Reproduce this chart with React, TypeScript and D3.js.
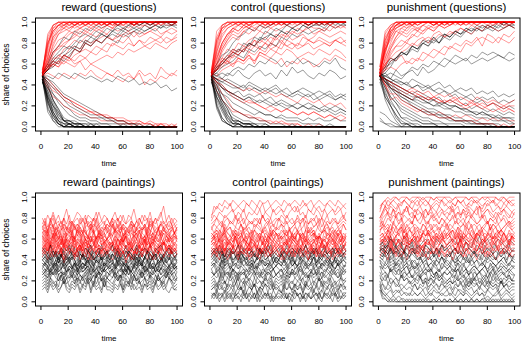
import React from 'react';
import * as d3 from 'd3';

// one string per subject: share of choices at evenly spaced time points from 1 to 100,
// each char is a base-36 digit, value = digit / 35 (spaces are only for reading)
const rewardQuestionsRed = [
  'hvyzy zzyzz zyzzz zyzzz zzyzz z', 'itxzz yzzzz yzzzz zzyzz zzzzy z',
  'hqwyx zyzzy zzzzy zzzzz yzzzz z', 'inuwy xyzyz zzyzz zzzzz yzzzz z',
  'hmrvw xyxyz yzzyz zzzyz zzzzz z', 'ilprt vwxwy xyzyy zzyzz zyzzz z',
  'hkpqs tvuwv xwyxy yxzyy zzyzz y', 'ijnnq rtsuv uwvxw xwyxy xyzyy z',
  'ikmon qrqts tuvtu vwuwv wxvwx w', 'hjlkn mopqp rqsrt surts utsut u',
  'ilkml nmonp oqpsr qsrtr stust v', 'hihgi hgihj hgihg fhgie gfhgi h',
  'ijlkm lkmjl kjihj higjh igkih j', 'hfdca 98765 54433 32221 21110 1',
  'hecb9 87655 44332 22111 10101 0', 'gda97 65443 32221 11010 01000 0',
  'iuyzz zzzyz zzzzz yzzzz zzzzz z', 'hrxyz zzyzz zzzzz zzyzz zzzzz z',
  'iswyy zyzzz zyzzz zzzzz zyzzz z', 'hotwx yxyzy zzyzz zzzzz zzzzz z',
  'jpuxy zyzzz zzyzz zzzzz zzzzy z', 'hkorr tuwvx wxyxz yzyzz zzzzz z',
  'iryzz zzzzz zyzzz zzzzz zzzzz z', 'hnvyz yzzzz zzzyz zzzzz zzzzz z',
  'ilsvx wyzyz zzzzy zzzzz zzzzz z', 'jswyz zzzzz zzzzz zzzzz zzzzz z',
  'hmqtu wvxyx yzyzz zzyzz zzzzz z', 'ijmlo nqpsr tsutv uvwuv wvuwv w',
  'hklmo nlmnl mnonp oqpqr qsrqs t', 'igeca 98765 44332 21121 10100 0',
];
const rewardQuestionsBlack = [
  'h9310 10000 00000 00000 00000 0', 'g7210 00000 00000 00000 00000 0',
  'ga521 10100 00000 00000 00000 0', 'hc842 21101 00000 00000 00000 0',
  'fb732 11100 00000 00000 00000 0', 'he963 22111 00000 00000 00000 0',
  'ia752 21110 10000 00000 00000 0', 'hfb86 43221 11100 10000 00000 0',
  'gdb97 64332 21111 00000 00000 0', 'h8410 00000 00000 00000 00000 0',
  'g5200 00000 00000 00000 00000 0', 'hb521 00000 00000 00000 00000 0',
  'iknpr qsuvu wvxwy xyzyz yzzzz z', 'hjlnm oqpsr tsuvu wvwxw xyxyy x',
  'ilpru twvxw yxyzy zzyzz zzzzz z', 'hhgih gihgh gfgfh gfgef efdec d',
  'hfdb9 76543 33221 11100 00000 0', 'g9420 10000 00000 00000 00000 0',
  'fa631 10000 00000 00000 00000 0', 'hgeca 97654 43322 21110 10000 0',
  'ikmlo nqpsr tsuts vuwvw xwyxy y', 'hjmop rqtsu tvuwv xwxwy xyxzy z',
  'g6310 00000 00000 00000 00000 0', 'h9520 10000 00000 00000 00000 0',
  'fc742 11000 00000 00000 00000 0', 'ie962 10000 00000 00000 00000 0',
  'hd952 21100 00000 00000 00000 0', 'g8410 00000 00000 00000 00000 0',
  'hjkmo prqts uvuwx wyxyz yzzzz z', 'hgfdb a9876 54332 21100 00000 0',
];

const controlQuestionsRed = [
  'hsxyz yzzzz yzzzz zzzyz zzzzz z', 'iuyzy zzzzz zyzzz zzzzz zzyzz z',
  'hpvxy zyzzz zzyzz zzzzz yzzzz z', 'imsvx wyxyz zyzzz zzzyz zzzzz z',
  'hkpsu twvxw yxyzy zzyzz zyzzz z', 'ijnqp srtuw vxwxy xyzyz zzyzz z',
  'hkmon qpsrt sutvu wvwxv wxwyx y', 'ilnmp oqprq sqrtr sqrsq rsrts r',
  'hjkml nmolp onpoq pnopo qpoqp n', 'ikmlo nmpoq psrqt sruts tsrts t',
  'hggfe dcdcb cbaba 98a98 97878 6', 'hfdcb a9887 67656 54545 43434 3',
  'gc975 54433 22121 11010 10000 0', 'heb96 54332 21211 01000 00000 0',
  'iwyzz zzyzz zzzzz zzzyz zzzzz z', 'hryzz zzzzz yzzzz zzzzz yzzzz z',
  'jtxyz yzzzz zzzzy zzzzz zzzzz z', 'iosvw yxyzz yzzzz yzzzz zzyzz z',
  'hlqtv uwxwy xyzyz zyzzz zyzzz z', 'inrux wyxzy zzzyz zzzzz zzzzz z',
  'hjmnq prqts usvuw vxwyx xwyxy x', 'ijlmk nmomp oqpsr qsrts utstu s',
  'itxzz zyzzz zzzzz zzzzz zzzzz z', 'hqwyz zzzzz zzzyz zzzzz zzzzz z',
  'ipuxy zzyzz zzzzz zzzzz zzzzz z', 'hnsvx yzyzz zzyzz zzzzz zzzzz z',
  'ilqtw vxyxy zyzzz zzzzy zzzzz z', 'hjlnp oqrtq srusv tuvtu wvuvw v',
  'ihjkl mlnmo nmlnk mlnmk lnmon m', 'hfeca 98987 65656 54545 43432 3',
];
const controlQuestionsBlack = [
  'h8310 00000 00000 00000 00000 0', 'g6210 00000 00000 00000 00000 0',
  'ha631 10100 00000 00000 00000 0', 'hc853 21110 10000 00000 00000 0',
  'fa621 10000 00000 00000 00000 0', 'ge962 21110 00000 00000 00000 0',
  'hfba8 76545 44343 33232 32232 2', 'hgecb a9a89 87876 76766 56545 4',
  'ifdcb cabab 9a898 78787 67676 5', 'hgfed dcedc bcdba bcbab 9ab9a 9',
  'hgfgf edfed cdecd bcdcb cbcab a', 'g9520 10000 00000 00000 00000 0',
  'h7310 10000 00000 00000 00000 0', 'hiklm onqpr qsrut vuwvw xwyxy y',
  'ijmoq psrut wvxwy xyzyz yzzzz z', 'hklnp oqsru tvuwv xwyxy yxzyz y',
  'hhihj kjlkm lnmkm lnlml kmlnk j', 'higih jhgij higjh kijhg ihjig h',
  'hfdba 98765 44332 22111 10100 0', 'gc741 21100 00000 00000 00000 0',
  'hdb86 54332 21110 10000 00000 0', 'ilops uvxwy xyzzy zzzyz zzzzz z',
  'h7210 00000 00000 00000 00000 0', 'ga731 10000 00000 00000 00000 0',
  'hc962 21100 00000 00000 00000 0', 'fb842 11100 00000 00000 00000 0',
  'hgdcb a9a98 98787 76767 65656 5', 'ihgfe decdc dcbcb abab9 aba9a b',
  'hjlno qpsrt uvuwv xwyxy zyzzy z', 'he974 32211 10000 00000 00000 0',
];

const punishmentQuestionsRed = [
  'itxyz zyzzz zzzyz zzzzz zzzzz z', 'jvyzz yzzzz zzzzz zyzzz zzzzz z',
  'hrwyz yzzzz yzzzz zzzzz zzyzz z', 'ipuxy zyzzz zzzzz yzzzz zzzzz z',
  'hnswx yzyzz zyzzz zzzzz yzzzz z', 'jowxy zzyzz zzzzz zzzyz zzzzz z',
  'hlquw vxwyx yzyzz zyzzz zzzyz z', 'ikorr tuwvx wyxyz yzyzz zzzzz z',
  'hjmnp qsrtu tvuwv xwyxy xyzyy z', 'ilnmo lnmpo qprqs rtsur vusvu w',
  'hjkjl mlnmo nporq psrtu tsuts u', 'gedcb a9ba9 a989a 87978 78767 7',
  'hfedc bcba9 a9898 76787 65656 5', 'he9a8 76565 45434 34323 23232 2',
  'hgfed cdcbc abab9 a98a9 89878 9', 'itxzy zzzzz yzzzz zzzzz zzzzz z',
  'kwyzz zzzzz zzyzz zzzzz zzzzz z', 'hquxy xzyzz zzyzz zzzzz zzzzz z',
  'imqtv uwxwy xyzzy zzzzz zyzzz z', 'jpvyz zzzzz zzzzz zzzzz zzzzy z',
  'iqtwv xywyz yzzyz zzzzz zzzzz z', 'hkprt svuwx wyxyz yzzyz zzzzz z',
  'hsxzz zzzzz zzzzz zzzzz zzzzz z', 'jqvyz zyzzz zzzzz zzzzz zzzzz z',
  'irwyy zzzzz yzzzz zzzzz zzzzz z', 'kuxzz zzzzz zzzzz zzzzz zzzzz z',
  'hnrux wyxyz zyzzz zzzzz zzzzz z', 'ilnpq srtus vwuvw xwvxw yxwxy x',
  'hgfed cba9a 98989 87876 78676 5', 'iebb9 87654 43332 22211 11010 1',
];
const punishmentQuestionsBlack = [
  'h9520 10000 00000 00000 00000 0', 'gc742 11000 00000 00000 00000 0',
  'hea86 54322 11100 00000 00000 0', 'ifc97 65433 22111 10000 00000 0',
  'hgdca 97654 43322 21111 00000 0', 'igedb a9876 65443 32221 11100 0',
  'hfecb a9a98 78767 65545 43433 2', 'jgfed cbcba 9a898 78676 56545 4',
  'hhgfe fdecd cbcab 9a989 78767 6', 'ihgff edede cdcbc bab9a 9a898 9',
  'hgfgf egfed efdec dcdbc bcaba b', '54210 00000 00000 00000 00000 0',
  '31100 00000 00000 00000 00000 0', 'fa741 10000 00000 00000 00000 0',
  'hd963 21100 00000 00000 00000 0', 'hjmnp orqts usvuw vxwyx yxzyz y',
  'hklno prqsr tsutv uwvxw xwyxy x', 'iknmp oqpsr usvuw vxwxw yxwxy x',
  'higjh ikjlk mlnmo nmonp oponp o', 'hfdb9 87655 44332 22211 11000 0',
  'gb863 32211 10000 00000 00000 0', 'hgfdc baa98 97877 66545 44333 3',
  'ia731 10000 00000 00000 00000 0', 'hda85 43211 10000 00000 00000 0',
  'ggdba 98765 54432 22111 10000 0', 'hfdcb a9988 77665 54433 32221 1',
  'igfed cbaa9 98877 66554 43322 1', '21000 00000 00000 00000 00000 0',
  'hiknp orqst suvuw vwxwy xyxzy y', 'hhihg ijhki jlkml mnlmn mnonm n',
];

const rewardPaintingsRed = [
  'sqtru rtqsv rqsut rqtsr uqrts qsurt rqtsv rsqtr uqsrt wrtqs r',
  'qsprt qrosq tprsq rtpqs rurqs qsrpq tqrsp rqtrs prqsu qrpsq r',
  'prnqs oqpso qrpnq spqro spqrn qprso qnprq osqpr nqspq oprqn p',
  'oqnrp opmqo rnpqo nspoq pnoqp oqnpr mopqn opnqo rpmoq pnopq o',
  'pnoqp mprop nqpos pnoqp rnpoq psopn qporn pqopm qpnoq rpoqn p',
  'npmoq nlopm onqmp nolqn pmonp nqmon pmnoq lnpom nqopm onmpn o',
  'molnp mnkom nplmo knmpn lomnl mponm knmol pnmko mnlpm onkmn m',
  'nmolm pnkmo nmlpn onmkn oplmn omknp mnolm nkopm lnomn pmlon n',
  'lnkmo lmjnl mokln jmlon kmlnk lmonl kmjnm lokmn ljmol nkmlm l',
  'mlnkm olmjn mlkom nlmko lnmjl nmolk mnlkn omlmj nlkmo lmnkl m',
  'kmjln kljmk lnjkm ilkmj lnkml kjmlk nljkm lilkm jnlkm jklmn l',
  'lkmjl nkljm kmilk nljmk lmjkl nkmjl kmlij lknml jkmlk jmlkn l',
  'jlikm jkhlj kmijl hkjlk imjkl jkilj mkjhk ljkim jlkjh kljim k',
  'kjlik mjkil jkmhk jlkij mkjli kjlik jmkil jkhlj kmjil kjlhk j',
  'ikhjl ijgki jlhij gjikl hjikh jkijh lijkg ijhkj ilhji kjgij i',
  'jikhj likjh kjlhi kjgij lihkj ijkhl jikjg ikjli hkjij lhikj j',
  'hjkij hkijl gjikh jlijh kjigk jhilj kihjk gijlh jkihj kijgh j',
  'hjgik hifjh ikghj fihjk gihjg ijhik gjihf jihkg ijhig khjih i',
  'ihjgi kihgj ihfij hgkih jghij khigj ihfhj kigih jgihk hjigi h',
  'gihjf hgiej hgfih jgehi gfhig hjgfi hegih gjfhi gehgi fhjgh g',
  'hgifh jgheg ihgfj higeh gihfg ihgjf hgieh gfihg jhegi hgfhi g',
  'fhegi fghdf giehe gfhfe gifgh fegif hdgfe ghfie gfhge fighf g',
  'nompl nomkn pmlon mpkno lnmpo mnoqm lonpm nolmp onmkn pomln o',
  'mkljn klmil knlkj mlikm jlnkl mkjln kmilk nljmk lmkjl nmklj l',
  'pqosp rnoqp oroqp nqros pqnoq prosq opnqp rpoqn sqpor pqnop q',
  'ijhki gjihk jigij hkihj ijgih jkihg jihki gjhik jihgj kihji h',
];
const rewardPaintingsBlack = [
  'higjf hgihe gjhfi gehif hgjhe ghifh gjhge ihgfh jgihe fhgih g',
  'ghfeh gfigf ehgfh egifh gfegh fgihe gfhgf iegfh gefhg fgehf g',
  'fgedf hegfd fgecg fedgf ehdfg efgdf ehgfe dgfeh dfgec fegdf e',
  'efdce gdfec dfebe dcfed gecdf decgf dcefd becfd geced fdcef d',
  'edfec edgcd efcde bdecf defcd edfce dcgde cfedb dfcde gdefc e',
  'dcebd cfbdc ebdac dcebd cadce cdbec dacdb fcdbe cdacb decdb c',
  'cdbac ebdca cbdac bdacb ecabd bcadb cebac dbacd bcabe dbcab c',
  'bdcab dcbea cbdba cbdca bcadc bdcba dcbad cebca dbcab dcbac b',
  'bac9b cab9a bca9b abc9a ba9bc abcab 9dbac a9bcb a9cab b9acb a',
  'ab9ac 9ba8a b9ab9 8ab9c a9ab8 ab9a8 bac9a 9b8ab 9ca9b a8b9a b',
  '9a8b9 a79a8 9b8a9 79a8b 9a78a 98a79 8b9a9 78a9b 8a978 9a89a 8',
  '8979a 87968 89786 9a879 8a798 78a89 79868 97a87 98796 8a978 7',
  '78687 59786 79687 86979 68758 76879 58697 86785 97687 69876 8',
  '67586 75968 57697 58675 96857 65786 47659 67586 75697 56875 6',
  '56475 64585 46574 65847 56485 54657 46584 57465 64756 45864 5',
  '45364 53574 35463 54736 45374 43546 35746 45364 53645 74354 4',
  'hgfhg egfhg ifghe gfhge fgihf gefhg higfe ghfig egfhe ghigf g',
  'edcfd bdecd fcdeb dcfdc edbdc decfd cbdec fdcde bdcef dcbdc d',
  'cbabc dabc9 bacbd abcab 9cbab cabdc ab9ca bcdab cabc9 bacbd b',
  'efgef hdfge fegfd gefhe fdgef egfhe dfgef egdfh efgde gfehf f',
  'a98a9 b9a89 8a979 89786 98978 9a897 a9b89 79a89 86978 98a97 8',
  'ihgjh ghfih jgihg fihjg hiegh hjgih fhgih jghih gfhij hgihg h',
  'fedge cfdeg dfecd gedfc edfbe dgefd cedfg decfe dfgce edfde e',
  'dcbdc acdbc dcbac dbcec bdcab cdbcd acbdc bdcac dbcdb cacdb c',
  '9ab8a b9a9c a8b9a ab9ba 8a9ba 9b8ab a9ca9 ba8b9 a9ab9 ab9a8 a',
  'gfegh fegdf hgfeg fdhge fgefh egfdg efhge gfdfe hgefg dfgfe g',
];

const controlPaintingsRed = [
  'swvxw yxwyx wxyxw yxwyx xywxy xwyxw xyxwy wxywx yxwxy xwyxw x',
  'tuwvu wvxuv wvuxw vuwvx uvwuv wvuwx vwuvw xvuwv wuvxw vuwvw v',
  'rtsut stuvs utvsu tutvs utsvt uvtsu vuwtu svutv usvtu vtuvs u',
  'pqsrq tsrqs rtqsr qrsqt rsqrs rtsqr sqtrs rqsrt qsrtq rsqst r',
  'oqpqr oprqp sqopq rpqso qrpqo sqpro pqrqs oqrpq sprqo qrpqr q',
  'mnpon qopnp oqnop nqpon pqnop oqpno pqnop rnopq onpqo pnopq o',
  'lmnlm onmln moknm lonmk nmlon monml nkomn lomnk mnolm nomkn m',
  'nmonl pnmon lmpon nomlo pnmon mnomp lnomn kpnom lnpmo nmonl n',
  'mlnkm olmkn lmoln kmnlo mknlm nlmok mlnml kmnol mlknm olnmk m',
  'lmkln mjlkm nklmj lkmnl jmlkn lmkjl mnklm jlkml nkljm lkmnl k',
  'klmkj mlknl jmlkj nlkmj lkmnl kmljk nlkmj lklnm kjmlk ljnkm l',
  'kmjlk nljkm jlnkj mkilm kjnlk mljkm lkjnl mjkli mkljn kmljk l',
  'kjlki jlkjm ikljh kjlik jmlkj likjl kmjik ljhkj mlijk jlkmi k',
  'jkilj hjkij likjh kjilk hjiki jkjli kjhlj ikjkl ijhkj likjk j',
  'jkijl hkjil jkhij lkjhk ijlik jhkji lkjih jkilj hkjil jkhij j',
  'ihjgi khijh gjikh ijhgi jkhij ijhki gjihk jhigj kijhg ikjhi j',
  'ijhik gjhij gihkj hijgi hjkhi jihgj ihkji gihjh gkijh ijgih i',
  'ihgji hkigh jihgj ikhig jhigh ijhgi kihjg hijgh ikhgj ihjgi h',
  'hihjg ihgjh ighij fhigh jhgih hgjih fighj hgihg jfhig hjghi h',
  'hgihj fhigh jhgfi hjgih fhgji ghigh jfhgi hgjhf ighjh gfihg h',
  'ghfig hegih fhgie ghfgi hfghi gehgf ighfg hegif hgfhi egfhg g',
  'fhgeh igfhg ehgif hfgeh gifhg fhegh gfihf gehgi fhgef hgihf g',
  'nmlom nklmo mnlkm omlnm klomn lmnko mlnmk olmnl mkonm lnmok m',
  'kljmk ljkim kjlkm ijklj mkjlk jlmkj lkimj kljkm lijkl mkjli k',
  'pnomq nopmo nqopn moqpn ompno pqnmo npoqm onpmo qnopn mopnq o',
  'qrsqp rsqrt qrspr qsrqt rqspr srqtr qrsqr tqrsq rsprq srqrs r',
];
const controlPaintingsBlack = [
  'higjh fhigh ejhgi hfgih gjhfg higjh fhgih jgfhi ghjgh fihgj h',
  'gfhgi egfhf gehgf igehf ghfge gfhig egfhg fehgi gfhge gihfg g',
  'fgefh dfgef hegfd fgeif efgdf egfhe fdgef hfegd fegfe hdfge f',
  'efdeg cefde gdefc edfge dcefd egdfe cdfeg defcd egfde cfedg e',
  'dedcf debdc edfcd ebdce dfcde dcebd fdcde cbdfe dcedb dfcde d',
  'cdbce bcdac bdcba cdbec acdbc dcbac ebcda bcdbc adcbe cbdac c',
  'bcabd abcba 9cbab dacb9 bcabc babca 9bcab dbac9 cbabc abdba b',
  'a9bac 9a8ba 9ab9a c9a8b a9ab9 ab8a9 ba9ca 89ab9 a8ba9 cab9a a',
  '898a7 98a89 79a87 9a898 7a989 89798 a8978 98a89 78987 a9897 8',
  '7867a 68786 97868 75876 87968 78697 68786 57968 78679 86787 7',
  '56475 74656 84576 46547 65746 56475 46564 75645 86547 56465 5',
  '45364 53463 54735 46354 63645 43546 35463 54536 47354 63456 4',
  '32423 13242 35232 41324 23142 32413 24231 32423 14232 42313 3',
  '21312 02131 20312 13021 31202 12130 21302 13120 31212 03121 2',
  '13202 31203 12130 21302 13021 21312 03213 02123 10321 32012 2',
  'ghfeg fhgif ghfeg hgfig hfghg fhegf hgife ghfgh efhgf ighfg h',
  'dcedb cdfcd bcedc dbced cdbdc dcedf cdbce dcdfc bdced cdecb d',
  'a9a8b 9a9b8 a9a89 ba9a8 9a9b9 a8ab9 a9b8a 9ab9a 8a9ba 9a8a9 a',
  '67586 75968 57697 58675 96857 67586 75768 59676 85768 67586 7',
  'hgfhg efgdf egfde fdefd cedfd edfcd edcfd cedfc dedfc decde d',
  'b9ab8 a9b9a 8a9b9 a8b9a 9ba89 ab9a8 b9ab9 a8a9b 9a89a b9a8b a',
  'fefgd efhef dgfef gdfeh efgdf egfef hdefg feghd fegfe dfgef f',
  'cdcbe cdbcd cecdb dcbde cdcbc edcdb cdcec bdcdc ebdcd cbdec c',
  '45645 36546 45365 46354 65464 53645 46453 65465 34656 45364 5',
  'ghigh fihgh jgihg hfihg ihjgh ighfh ihgig jhgih fhigh ighjg h',
  '23132 42312 32413 23142 32312 43213 24231 32142 31324 23142 3',
];

const punishmentPaintingsRed = [
  'vxyzy zzyzz zyzzz zyzzz yzzzz zzyzz zzzyz zzyzz zzzzy zzyzz z',
  'uxwyx yzyxy zyxyz yzyxz yzyyz yxyzy xyzyz yxyzy zyxzy yzyxy y',
  'suwvx wvxwy xwvxw yxwxv wxwyx wvxwy xwvxw yxwvx wxyxw vxwyx w',
  'rtvuw vuwtv uwvuv wuvtw vuwvu vwuvw tvuwv uvwuv xwuvw uvwvu v',
  'pstut vsutu wtusv utsuv tusut utvsu tusvt uwstu vutsu tvuts u',
  'opqsr qtrsq rsqtr qsrqt rsqsr srtqs rqsts rqrst qsrsq rtsqr s',
  'nqpon rpqso pqrop nqpro qpnqp qoprq pqorp qpnpq roqpq opqrp q',
  'rqsur tsqrt srqtr suqrs trqsr qrstq rsqrt sqrtr qsrqt rsqrq r',
  'qrpqo pnoqn opmno lnmon lnmlm nmlnm olmnm lnmol mnlmn olmnl m',
  'mnlom kmnpl monlm knmol mnkml nomln mkonm lnmok nmlnm onlmn m',
  'mnlom npmol nmkom lnpmn olnmo mnomp lnmom knomn mplno mnlom n',
  'lmkln mjlkm nklmj lkmnl jmlkn lmkln jmlkm nlkjm lmkln mkljm l',
  'lkmnj lmklk njlmk lmjnl kmlnk lmkjl nlmkl jmnlk lmkjm lnlkm l',
  'kljkm ijlkj mkljk hjkli kjlmk jkljm kilkj lmjki kljmk jlkjl k',
  'kljmk ljkim kjlkm ijklj mkjlk jlkmj likjl mkjlk ijmkl jkljm k',
  'jkijl hjikj lijkh jikjl ihjki jkjih ljkij hkjil jkhij ljikj j',
  'jlkmi kjlih kjlki jhkjl kijlk ijkhj likjk ihjlk jikjh lkjik j',
  'ijhik hgjih kihjg ihjki gihji hijhk gihji khjgi ihjkh gijhi i',
  'hihgj gihfh jgihg hjfig hgihf hghig jhfih ghjig hfghi jghih h',
  'ihgji hfihg jhigh fgihg jhfig hihgj hfigh ighjf hgihj gihfh h',
  'fhgeh igfhg ehgif hfgeh gifhg fhegh gfihf gehgi fhgef hgihf g',
  'pqopn qpopq nopqp oqpno pqopr oqpon pqpoq npqop roqpn opqpo p',
  'suwts vtusu wtsvt usvtu stuvt suwtu svtus utwsu vtsut uvtsu t',
  'lmnml kmnlo mlmnk lomnm lkmnl mnolm knmlo mnmkl nmolm lnmkm l',
  'opnoq nmopn qonpo mnopq nopno qmonp onqop nmopo nqopn onpqo n',
  'wxywx yxwxy xwyxy wxyxw xyxyw xyxwy xywxy xyxwx yxywx yxyxw x',
];
const punishmentPaintingsBlack = [
  'iklkm jlkjm ljkli jklkj ilkji jklkj mlkji lkmjk ljikl kjilk j',
  'hjikh jihjg ihjgi hgjih figjh ijhig jhkih gjihj higjh ihgjh i',
  'higjh gihfh gfhgf egfhe fgefd fgedf gefde fgfde gfefd efdgf e',
  'hgihf gefgd efdec defcd cedbd cdcbd cdbce dbcdc bcdcb dcbdc c',
  'gfhge fdefc decbd cdbcb dcabc bcbab cab9b cbabc abcab cbabc b',
  'hgfgd ecdbc dbcab cabab 9ab9a babab 9ab9a b9aba 8ab9a b9aba 9',
  'fedfc dbcdb cabcb 9abab 9a89a 9a9b8 a9897 a9a89 8a9a8 9a897 9',
  'edcdb cabab 9a8a9 89a79 8a898 78987 89786 87878 69787 86787 7',
  'dcbca ba9a8 98979 87868 78787 67678 67576 86767 57676 75676 6',
  'c9a8b 98797 87676 86756 76565 67675 65757 66565 76565 75656 6',
  'a8796 76565 45464 54534 54345 45354 43545 34543 45453 45434 4',
  '96545 34343 23232 32123 21232 23212 32321 23231 21223 12321 2',
  '74321 21211 01010 10100 10101 01010 10101 01011 01010 10101 0',
  '53210 10000 00000 00000 00000 00000 00000 00000 00000 00000 0',
  '62100 00000 00000 00000 00000 00000 00000 00000 00000 00000 0',
  '41101 01010 10101 01010 10101 01010 10101 01010 10101 01010 1',
  'gfhgi fhgeh gfhge fhgef gehgf gfhge fhgeg hfgeh gfgeh fghge g',
  'fegdf ecedf dcedc fdecd ecdfd edfce dcedf decdc fedcd efdce d',
  'ebdca bdcab cadbc abdca cbadc bcabd acbab cbabc adbca bcbab c',
  'cba9b a9b8a 9a89a 8a9b9 8a98a 9a89b 98a9a 89a98 a9b89 a98a9 9',
  '87968 78697 86787 96878 69786 78697 87868 79687 86978 68797 7',
  '56465 75645 67564 65746 56475 56465 74656 56475 46564 75645 5',
  'ihjig hjgih fhigh gfhgi fghfe gfhef gfegf hfegf egfeg fhegf f',
  '43234 23423 32432 34232 43323 42324 32432 34232 43234 23432 3',
  'hihgi ghfgh efgfe fdefe dedfe dcede dfdec dedce dedcd edcde d',
  'jkijl kijkh jikhj ihjih gihjh ighig hghih ghigh ihghg hihgh h',
];

const titles = [
  'reward (questions)', 'control (questions)', 'punishment (questions)',
  'reward (paintings)', 'control (paintings)', 'punishment (paintings)',
];
const redSets = [
  rewardQuestionsRed, controlQuestionsRed, punishmentQuestionsRed,
  rewardPaintingsRed, controlPaintingsRed, punishmentPaintingsRed,
];
const blackSets = [
  rewardQuestionsBlack, controlQuestionsBlack, punishmentQuestionsBlack,
  rewardPaintingsBlack, controlPaintingsBlack, punishmentPaintingsBlack,
];
const xTicks = [0, 20, 40, 60, 80, 100];
const yTicks = [0, 0.2, 0.4, 0.6, 0.8, 1];

const lefts = [35.5, 204.5, 373];
const tops = [18, 193];
const pw = 147;
const ph = 113;
const font = 'Liberation Sans, Arial, Helvetica, sans-serif';

const decode = (s: string) =>
  s.replace(/ /g, '').split('').map(c => parseInt(c, 36) / 35);

function Panel({ left, top, title, red, black, yLabel }: any) {
  const x = d3.scaleLinear().domain([-4, 104]).range([left, left + pw]);
  const y = d3.scaleLinear().domain([-0.04, 1.04]).range([top + ph, top]);
  const pathFor = (s: string) => {
    const v = decode(s);
    const line = d3.line<number>()
      .x((_, i) => x(1 + (i * 99) / (v.length - 1)))
      .y(d => y(d));
    return line(v) || '';
  };
  const n = Math.max(red.length, black.length);
  const paths: any[] = [];
  for (let i = 0; i < n; i++) {
    if (black[i]) paths.push(<path key={'b' + i} d={pathFor(black[i])} stroke="rgba(0,0,0,0.4)" />);
    if (red[i]) paths.push(<path key={'r' + i} d={pathFor(red[i])} stroke="rgba(255,0,0,0.4)" />);
  }
  const bottom = top + ph;
  return (
    <g>
      <g fill="none" strokeWidth={1}>{paths}</g>
      <rect x={left} y={top} width={pw} height={ph} fill="none" stroke="#000" />
      {xTicks.map(t => (
        <g key={'x' + t}>
          <line x1={x(t)} x2={x(t)} y1={bottom} y2={bottom + 4} stroke="#000" />
          <text x={x(t)} y={bottom + 18} textAnchor="middle" fontSize={8}>{t}</text>
        </g>
      ))}
      {yTicks.map(t => (
        <g key={'y' + t}>
          <line x1={left} x2={left - 4} y1={y(t)} y2={y(t)} stroke="#000" />
          <text transform={`translate(${left - 9},${y(t)}) rotate(-90)`} textAnchor="middle" fontSize={8}>
            {t.toFixed(1)}
          </text>
        </g>
      ))}
      <text x={left + pw / 2} y={top - 7} textAnchor="middle" fontSize={11.5}>{title}</text>
      <text x={left + pw / 2} y={bottom + 35} textAnchor="middle" fontSize={8}>time</text>
      {yLabel && (
        <text transform={`translate(9,${top + ph / 2}) rotate(-90)`} textAnchor="middle" fontSize={8.5}>
          share of choices
        </text>
      )}
    </g>
  );
}

export default function App() {
  return (
    <svg width={525} height={350} style={{ position: 'absolute', left: 0, top: 0, background: '#fff' }}
      fontFamily={font}>
      {titles.map((title, k) => (
        <Panel key={title} left={lefts[k % 3]} top={tops[Math.floor(k / 3)]} title={title}
          red={redSets[k]} black={blackSets[k]} yLabel={k % 3 === 0} />
      ))}
    </svg>
  );
}
